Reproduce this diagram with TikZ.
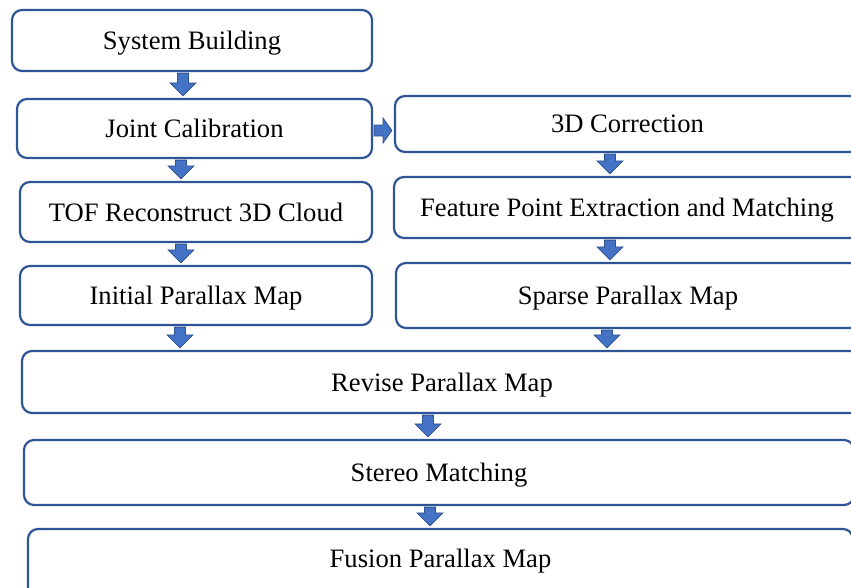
\documentclass[tikz,border=0pt]{standalone}
\usepackage{fontspec}
\setmainfont{Liberation Serif}
\usetikzlibrary{calc}
\definecolor{boxline}{HTML}{2F5597}
\definecolor{arrfill}{HTML}{4472C4}
\definecolor{arrline}{HTML}{2F528F}
\tikzset{
  box/.style={draw=boxline, line width=2.2pt, rounded corners=10pt, fill=white,
    inner sep=0pt, text depth=0pt, font=\fontsize{26.6}{30}\selectfont, text=black},
  blockarr/.style={draw=arrline, fill=arrfill, line width=0.8pt, line join=miter}
}
\newcommand\dnarrow[3]{%
  \path let \p1=(#1.south), \p2=(#2.north) in
    [blockarr] ({#3pt-5.5pt},{\y1-1pt}) -- ({#3pt+5.5pt},{\y1-1pt}) -- ({#3pt+5.5pt},{\y2+15pt})
    -- ({#3pt+13pt},{\y2+15pt}) -- ({#3pt},{\y2+2pt}) -- ({#3pt-13pt},{\y2+15pt})
    -- ({#3pt-5.5pt},{\y2+15pt}) -- cycle;}
\begin{document}
\begin{tikzpicture}[x=1pt,y=-1pt]
\useasboundingbox (0,0) rectangle (851,587);
\clip (0,0) rectangle (851,587);
\node[box, minimum width=360pt, minimum height=61pt] (b1) at (192,40.5) {System Building};
\node[box, minimum width=355pt, minimum height=59pt] (b2) at (194.5,128.5) {Joint Calibration};
\node[box, minimum width=352pt, minimum height=60pt] (b3) at (196,212) {TOF Reconstruct 3D Cloud};
\node[box, minimum width=352pt, minimum height=59pt] (b4) at (196,295.5) {Initial Parallax Map};
\node[box, minimum width=465pt, minimum height=56pt] (r1) at (627.5,124) {3D Correction};
\node[box, minimum width=466pt, minimum height=61pt] (r2) at (627,207.5) {Feature Point Extraction and Matching};
\node[box, minimum width=464pt, minimum height=65pt] (r3) at (628,295.5) {Sparse Parallax Map};
\node[box, minimum width=840pt, minimum height=62pt] (rv) at (442,382) {Revise Parallax Map};
\node[box, minimum width=830pt, minimum height=65pt] (st) at (439,472.5) {Stereo Matching};
\node[box, minimum width=825pt, minimum height=72pt, text depth=14pt] (fu) at (440.5,565) {Fusion Parallax Map};
\dnarrow{b1}{b2}{183}
\dnarrow{b2}{b3}{181}
\dnarrow{b3}{b4}{181}
\dnarrow{b4}{rv}{180}
\dnarrow{r1}{r2}{610}
\dnarrow{r2}{r3}{610}
\dnarrow{r3}{rv}{607}
\dnarrow{rv}{st}{428}
\dnarrow{st}{fu}{430}
\path let \p1=(b2.east), \p2=(r1.west) in
  [blockarr] ({\x1+1pt},125) -- (383,125) -- (383,118) -- ({\x2-2pt},130.5)
  -- (383,143) -- (383,136) -- ({\x1+1pt},136) -- cycle;
\end{tikzpicture}
\end{document}
